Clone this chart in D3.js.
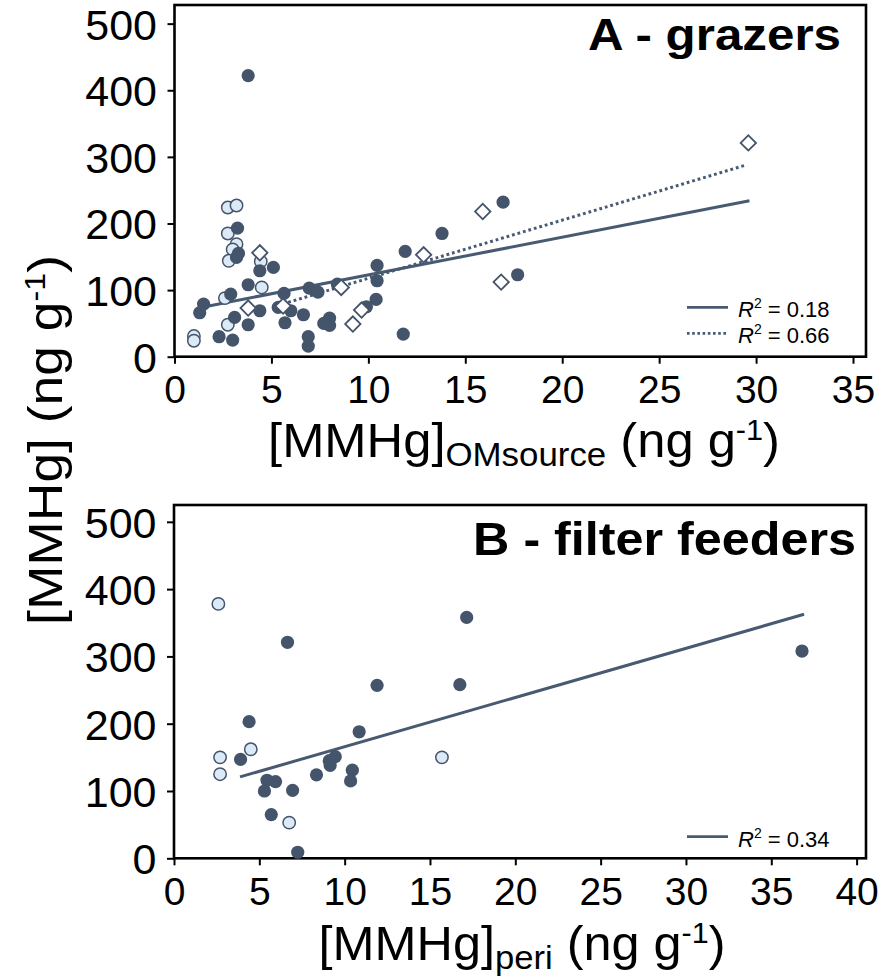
<!DOCTYPE html>
<html>
<head>
<meta charset="utf-8">
<script src="https://cdn.jsdelivr.net/npm/d3@7"></script>
<style>
  body { margin: 0; background: #fff; }
</style>
</head>
<body>
<script>
// ---- data ----
// panel A (grazers): [MMHg]OMsource vs [MMHg]
var grazersDark = [[3.8,422],[3.25,193],[3.3,155],[3.2,149],[4.4,129],[5.1,134],[3.8,108],[2.9,94],
  [1.5,79],[1.3,66],[3.1,59],[4.4,69],[3.8,48],[2.3,30],[3.0,25],[5.65,95],[5.35,74],[6.0,69],
  [5.7,51],[6.65,63],[6.95,103],[7.4,97],[6.9,30],[6.9,16],[7.7,50],[8.0,58],[8.0,47],[8.4,109],
  [10.45,137],[10.45,114],[10.4,86],[9.9,75],[11.8,34],[11.9,158],[13.8,185],[16.95,232],[17.7,123]];
var grazersLight = [[2.75,224],[3.2,227],[2.75,185],[3.2,169],[3.0,161],[2.8,144],[4.45,143],
  [4.5,104],[2.6,88],[2.75,48],[1.0,31],[1.0,24]];
var grazersDiamond = [[4.4,156],[3.8,73],[5.6,76],[8.6,104],[9.2,49],[9.65,70],[12.85,153],
  [15.9,218],[16.85,112],[29.6,321]];

// panel B (filter feeders): [MMHg]peri vs [MMHg]
var filterLight = [[2.6,378],[2.7,150],[2.7,125],[4.5,162],[6.75,53],[15.7,150]];
var filterDark = [[6.65,321],[17.15,358],[11.9,257],[16.75,258],[4.4,203],[10.85,188],[3.9,147],
  [9.45,151],[9.1,145],[9.15,138],[8.35,124],[10.45,131],[10.35,115],[5.45,116],[5.95,114],
  [5.3,100],[6.95,101],[5.7,65],[7.25,9],[36.8,308]];

// regression lines: slope, intercept, x range
var fitGrazersAll = {slope: 5.66, intercept: 66.2, from: 1.3, to: 29.66, r2: "0.18"};
var fitGrazersDiamond = {slope: 8.73, intercept: 30.4, from: 5.3, to: 29.5, r2: "0.66"};
var fitFilter = {slope: 7.31, intercept: 92.7, from: 3.87, to: 36.92, r2: "0.34"};

var yTickValues = [0,100,200,300,400,500];
var xTicksA = [0,5,10,15,20,25,30,35];
var xTicksB = [0,5,10,15,20,25,30,35,40];

// ---- drawing ----
var FONT = "'Liberation Sans', Arial, Helvetica, sans-serif";
var DARK = "#44546b";
var LINE = "#485a72";
var LIGHT = "#dce9f6";

var svg = d3.select("body").append("svg")
    .attr("width", 881).attr("height", 977)
    .attr("font-family", FONT);

// squeeze / stretch a text so it spans w pixels
function fitWidth(t, w) {
    var bw = t.node().getBBox().width;
    var s = w / bw;
    var tr = t.attr("transform") || "";
    t.attr("transform", tr + " scale(" + s + ",1)");
}

function drawPanel(p) {
    var x = d3.scaleLinear().domain([0, p.xMax]).range([p.left, p.right]);
    var y = d3.scaleLinear().domain([0, p.yMax]).range([p.bottom, p.top]);
    var g = svg.append("g");

    var ya = g.append("g")
        .attr("transform", "translate(" + p.left + ",0)")
        .call(d3.axisLeft(y).tickValues(yTickValues).tickSize(7).tickPadding(10.5));
    ya.select(".domain").remove();
    ya.selectAll("line").attr("stroke", "#000").attr("stroke-width", 2);
    ya.selectAll("text").attr("font-size", 43).attr("dy", "0.36em").attr("fill", "#000");
    ya.attr("font-family", FONT);

    var xa = g.append("g")
        .attr("transform", "translate(0," + p.bottom + ")")
        .call(d3.axisBottom(x).tickValues(p.xTicks).tickSize(7).tickPadding(12));
    xa.select(".domain").remove();
    xa.selectAll("line").attr("stroke", "#000").attr("stroke-width", 2);
    xa.selectAll("text").attr("font-size", 39).attr("fill", "#000");
    xa.attr("font-family", FONT);

    g.append("rect")
        .attr("x", p.left).attr("y", p.top)
        .attr("width", p.right - p.left).attr("height", p.bottom - p.top)
        .attr("fill", "none").attr("stroke", "#000").attr("stroke-width", 2.6);

    return {g: g, x: x, y: y};
}

function fitLine(c, f, dash) {
    var pts = [[f.from, f.intercept + f.slope * f.from], [f.to, f.intercept + f.slope * f.to]];
    c.g.append("path")
        .attr("d", d3.line().x(function(d){ return c.x(d[0]); }).y(function(d){ return c.y(d[1]); })(pts))
        .attr("fill", "none")
        .attr("stroke", LINE)
        .attr("stroke-width", 3)
        .attr("stroke-dasharray", dash ? "2.8,2.9" : null);
}

function circles(c, data, fill, stroke) {
    c.g.selectAll(null).data(data).enter().append("circle")
        .attr("cx", function(d){ return c.x(d[0]); })
        .attr("cy", function(d){ return c.y(d[1]); })
        .attr("r", stroke ? 6.2 : 6.6)
        .attr("fill", fill)
        .attr("stroke", stroke || "none")
        .attr("stroke-width", 1.5);
}

function diamonds(c, data) {
    var sym = d3.symbol().type(d3.symbolSquare).size(118);
    c.g.selectAll(null).data(data).enter().append("path")
        .attr("d", sym)
        .attr("transform", function(d){ return "translate(" + c.x(d[0]) + "," + c.y(d[1]) + ") rotate(45)"; })
        .attr("fill", "#fff")
        .attr("stroke", DARK)
        .attr("stroke-width", 1.8);
}

function legendRow(c, ly, f, dash) {
    c.g.append("line")
        .attr("x1", 687).attr("x2", 728).attr("y1", ly).attr("y2", ly)
        .attr("stroke", LINE).attr("stroke-width", 2.7)
        .attr("stroke-dasharray", dash ? "2.6,2.6" : null);
    var t = c.g.append("text").attr("x", 738).attr("y", ly + 10)
        .attr("font-size", 22).attr("fill", "#000");
    t.append("tspan").attr("font-style", "italic").text("R");
    t.append("tspan").attr("font-size", 14).attr("dy", -9).text("2");
    t.append("tspan").attr("dy", 9).text(" = " + f.r2);
}

function panelTitle(txt, xr, base, w, size) {
    var t = svg.append("text")
        .attr("transform", "translate(" + xr + "," + base + ")")
        .attr("text-anchor", "end")
        .attr("font-weight", "bold")
        .attr("font-size", size)
        .attr("fill", "#000")
        .text(txt);
    fitWidth(t, w);
}

function axisTitle(sub, tr, w) {
    var t = svg.append("text")
        .attr("transform", tr)
        .attr("text-anchor", "middle")
        .attr("font-size", 48)
        .attr("fill", "#000");
    t.append("tspan").text("[MMHg]");
    if (sub) {
        t.append("tspan").attr("font-size", 33).attr("dy", 9).text(sub);
        t.append("tspan").attr("dy", -9).text(" (ng g");
    } else {
        t.append("tspan").text(" (ng g");
    }
    t.append("tspan").attr("font-size", 29).attr("dy", -17).text("-1");
    t.append("tspan").attr("dy", 17).text(")");
    fitWidth(t, w);
}

// panel A
var A = drawPanel({left: 174.5, right: 866, top: 5, bottom: 356.7, xMax: 35.67, yMax: 528, xTicks: xTicksA});
fitLine(A, fitGrazersAll, false);
fitLine(A, fitGrazersDiamond, true);
circles(A, grazersLight, LIGHT, DARK);
circles(A, grazersDark, DARK, null);
diamonds(A, grazersDiamond);
legendRow(A, 307.3, fitGrazersAll, false);
legendRow(A, 333.3, fitGrazersDiamond, true);
panelTitle("A - grazers", 841, 50, 253, 44);

// panel B
var B = drawPanel({left: 174, right: 866, top: 505, bottom: 858.3, xMax: 40.55, yMax: 525, xTicks: xTicksB});
fitLine(B, fitFilter, false);
circles(B, filterLight, LIGHT, DARK);
circles(B, filterDark, DARK, null);
legendRow(B, 836.7, fitFilter, false);
panelTitle("B - filter feeders", 856, 555, 383, 46);

// axis titles
axisTitle("OMsource", "translate(524,457)", 512);
axisTitle("peri", "translate(522,960)", 407);
axisTitle(null, "translate(62,440) rotate(-90)", 370);
</script>
</body>
</html>
